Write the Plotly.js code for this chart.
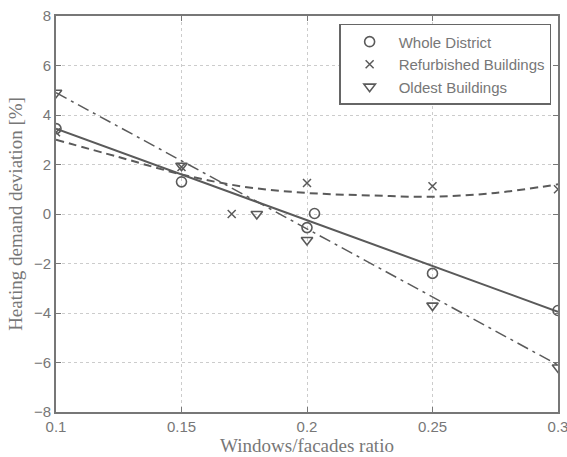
<!DOCTYPE html>
<html><head><meta charset="utf-8">
<script src="https://cdn.plot.ly/plotly-3.0.1.min.js"></script>
<style>body{margin:0;padding:0;background:#fff}#c{width:567px;height:457px}</style>
</head><body><div id="c"></div>
<script>
var wdX = [0.1, 0.15, 0.2, 0.203, 0.25, 0.3];
var wdY = [3.45, 1.3, -0.55, 0.02, -2.4, -3.9];
var rbX = [0.1, 0.15, 0.17, 0.2, 0.25, 0.3];
var rbY = [3.3, 1.9, 0.0, 1.25, 1.12, 1.0];
var obX = [0.1, 0.15, 0.18, 0.2, 0.25, 0.3];
var obY = [4.9, 1.95, 0.0, -1.05, -3.7, -6.2];
var wdFitX = [0.1, 0.3];
var wdFitY = [3.45, -3.95];
var rbFitX = [0.1, 0.125, 0.15, 0.175, 0.2, 0.225, 0.25, 0.275, 0.3];
var rbFitY = [3.0, 2.3, 1.6, 1.1, 0.85, 0.75, 0.7, 0.85, 1.2];
var obFitX = [0.1, 0.3];
var obFitY = [4.9, -6.1];
var xTicks = [0.1, 0.15, 0.2, 0.25, 0.3];
var xTickText = ['0.1', '0.15', '0.2', '0.25', '0.3'];
var yTicks = [-8, -6, -4, -2, 0, 2, 4, 6, 8];

var gray = '#5a5a5a';
var traces = [
  {x: wdFitX, y: wdFitY, mode: 'lines', line: {color: gray, width: 2, dash: 'solid'}, showlegend: false, hoverinfo: 'skip'},
  {x: rbFitX, y: rbFitY, mode: 'lines', line: {color: gray, width: 2, dash: '8px,5px', shape: 'spline'}, showlegend: false, hoverinfo: 'skip'},
  {x: obFitX, y: obFitY, mode: 'lines', line: {color: gray, width: 1.5, dash: '12px,5px,3px,5px'}, showlegend: false, hoverinfo: 'skip'},
  {x: wdX, y: wdY, mode: 'markers', name: 'Whole District', marker: {symbol: 'circle-open', size: 10, color: gray, line: {width: 1.6}}},
  {x: rbX, y: rbY, mode: 'markers', name: 'Refurbished Buildings', marker: {symbol: 'x-thin-open', size: 8, color: gray, line: {width: 1.5}}},
  {x: obX, y: obY, mode: 'markers', name: 'Oldest Buildings', marker: {symbol: 'triangle-down-open', size: 10, color: gray, line: {width: 1.6}}}
];
var axCommon = {
  showline: true, linecolor: '#777', linewidth: 2, mirror: 'ticks',
  ticks: 'inside', ticklen: 5, tickcolor: '#777', tickwidth: 1,
  showgrid: true, gridcolor: '#cccccc', griddash: 'dot', gridwidth: 1,
  zeroline: false, ticklabeloverflow: 'allow',
  tickfont: {family: 'Liberation Sans Narrow, Liberation Sans, sans-serif', size: 15, color: '#777'}
};
var layout = {
  width: 567, height: 457,
  margin: {l: 56, r: 9, t: 16, b: 45},
  paper_bgcolor: '#fff', plot_bgcolor: '#fff',
  xaxis: Object.assign({}, axCommon, {range: [0.1, 0.3], tickvals: xTicks, ticktext: xTickText,
    title: {text: 'Windows/facades ratio', font: {family: 'Liberation Serif, serif', size: 19, color: '#777'}, standoff: 2}}),
  yaxis: Object.assign({}, axCommon, {range: [-8, 8], tickvals: yTicks,
    title: {text: 'Heating demand deviation [%]', font: {family: 'Liberation Serif, serif', size: 19, color: '#777'}, standoff: 6}}),
  legend: {x: 0.564, y: 0.98, xanchor: 'left', yanchor: 'top', bgcolor: '#fff', bordercolor: '#666', borderwidth: 1.5,
    font: {family: 'Liberation Sans, Arial, sans-serif', size: 15, color: '#777'}, tracegroupgap: 0, itemwidth: 48},
  showlegend: true
};
Plotly.newPlot('c', traces, layout, {staticPlot: true, displayModeBar: false});
</script></body></html>
